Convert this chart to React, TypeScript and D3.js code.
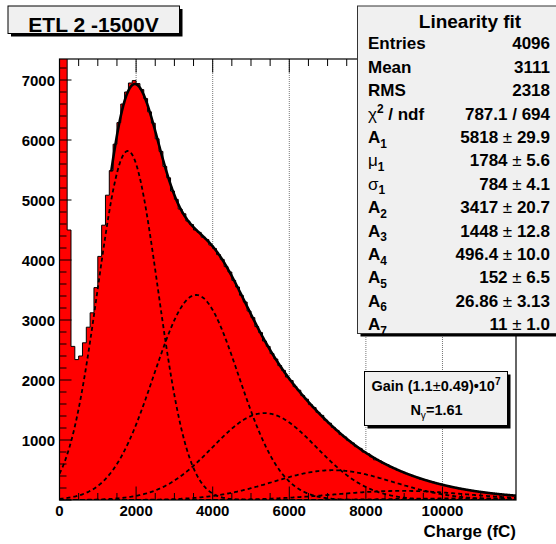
import { useEffect, useRef } from 'react';
import * as d3 from 'd3';

// Histogram contents, 100 fC bins starting at 0 fC
const binWidth = 100;
const counts = [
  9800, 8600, 4500, 2560, 2340, 2400, 2620, 2880, 3120, 3540,
  4060, 4580, 5080, 5490, 5930, 6290, 6600, 6800, 6950, 6990,
  6940, 6840, 6690, 6470, 6280, 6020, 5810, 5560, 5370, 5150,
  5010, 4850, 4770, 4650, 4590, 4500, 4460, 4380, 4340, 4250,
  4190, 4090, 4010, 3890, 3800, 3660, 3550, 3410, 3300, 3150,
  3040, 2890, 2790, 2650, 2560, 2440, 2350, 2240, 2160, 2050,
  1990, 1890, 1830, 1740, 1680, 1590, 1540, 1460, 1410, 1330,
  1280, 1210, 1160, 1090, 1050, 990, 950, 890, 860, 800,
  770, 720, 670, 655, 615, 590, 550, 528, 492, 470,
  440, 424, 394, 376, 345, 334, 310, 296, 274, 262,
  244, 232, 214, 206, 188, 180, 166, 158, 146, 140,
  128, 123, 112, 107, 97, 93, 85, 82, 74, 72,
];

const xMax = 11920;
const yMax = 7350;

// Fit: sum of gaussians, n-th peak at n*mu1 with width sqrt(n)*sigma1
const amplitudes = [5818, 3417, 1448, 496.4, 152, 26.86, 11];
const mu1 = 1784;
const sigma1 = 784;
const fitStart = 1350;

const xTicks = [0, 2000, 4000, 6000, 8000, 10000];
const yTicks = [1000, 2000, 3000, 4000, 5000, 6000, 7000];
const gridX = [2000, 4000, 6000, 8000, 10000];

type Part = { t: string; sub?: boolean; sup?: boolean; normal?: boolean };

const statRows: { label: Part[]; value: Part[] }[] = [
  { label: [{ t: 'Entries' }], value: [{ t: '4096' }] },
  { label: [{ t: 'Mean' }], value: [{ t: '3111' }] },
  { label: [{ t: 'RMS' }], value: [{ t: '2318' }] },
  { label: [{ t: 'χ', normal: true }, { t: '2', sup: true }, { t: ' / ndf' }], value: [{ t: '787.1 / 694' }] },
  { label: [{ t: 'A' }, { t: '1', sub: true }], value: [{ t: '5818 ' }, { t: '±', normal: true }, { t: ' 29.9' }] },
  { label: [{ t: 'μ', normal: true }, { t: '1', sub: true }], value: [{ t: '1784 ' }, { t: '±', normal: true }, { t: ' 5.6' }] },
  { label: [{ t: 'σ', normal: true }, { t: '1', sub: true }], value: [{ t: '784 ' }, { t: '±', normal: true }, { t: ' 4.1' }] },
  { label: [{ t: 'A' }, { t: '2', sub: true }], value: [{ t: '3417 ' }, { t: '±', normal: true }, { t: ' 20.7' }] },
  { label: [{ t: 'A' }, { t: '3', sub: true }], value: [{ t: '1448 ' }, { t: '±', normal: true }, { t: ' 12.8' }] },
  { label: [{ t: 'A' }, { t: '4', sub: true }], value: [{ t: '496.4 ' }, { t: '±', normal: true }, { t: ' 10.0' }] },
  { label: [{ t: 'A' }, { t: '5', sub: true }], value: [{ t: '152 ' }, { t: '±', normal: true }, { t: ' 6.5' }] },
  { label: [{ t: 'A' }, { t: '6', sub: true }], value: [{ t: '26.86 ' }, { t: '±', normal: true }, { t: ' 3.13' }] },
  { label: [{ t: 'A' }, { t: '7', sub: true }], value: [{ t: '11 ' }, { t: '±', normal: true }, { t: ' 1.0' }] },
];

const FONT = '"Liberation Sans", Arial, Helvetica, sans-serif';

function gauss(v: number, n: number) {
  const m = n * mu1;
  const s = Math.sqrt(n) * sigma1;
  return amplitudes[n - 1] * Math.exp(-0.5 * ((v - m) / s) ** 2);
}

function richText(
  g: d3.Selection<SVGGElement, unknown, null, undefined>,
  x: number,
  y: number,
  parts: Part[],
  size: number,
  anchor: string
) {
  const text = g
    .append('text')
    .attr('x', x)
    .attr('y', y)
    .attr('font-family', FONT)
    .attr('font-size', size)
    .attr('font-weight', 'bold')
    .attr('text-anchor', anchor)
    .attr('fill', '#000');
  let shift = 0;
  parts.forEach((p) => {
    const target = p.sub ? size * 0.28 : p.sup ? -size * 0.38 : 0;
    const ts = text.append('tspan').text(p.t);
    if (target !== shift) ts.attr('dy', target - shift);
    shift = target;
    if (p.sub || p.sup) ts.attr('font-size', size * 0.7);
    if (p.normal) ts.attr('font-weight', 'normal');
  });
  return text;
}

export default function App() {
  const svgRef = useRef<SVGSVGElement>(null);

  useEffect(() => {
    if (!svgRef.current) return;
    document.body.style.margin = '0';

    const svg = d3.select(svgRef.current);
    svg.selectAll('*').remove();

    const left = 59.5;
    const right = 516;
    const top = 59;
    const bottom = 500;

    const x = d3.scaleLinear().domain([0, xMax]).range([left, right]);
    const y = d3.scaleLinear().domain([0, yMax]).range([bottom, top]);

    svg.append('rect').attr('width', 556).attr('height', 544).attr('fill', '#fff');

    svg
      .append('clipPath')
      .attr('id', 'frame')
      .append('rect')
      .attr('x', left)
      .attr('y', top)
      .attr('width', right - left)
      .attr('height', bottom - top);

    const g = svg.append('g');

    // vertical grid
    g.selectAll('.grid')
      .data(gridX)
      .enter()
      .append('line')
      .attr('x1', (d) => x(d))
      .attr('x2', (d) => x(d))
      .attr('y1', top)
      .attr('y2', bottom)
      .attr('stroke', '#777')
      .attr('stroke-width', 1)
      .attr('stroke-dasharray', '1,1');

    // histogram
    const bins = counts.map((c, i) => ({ lo: i * binWidth, c }));
    bins.push({ lo: counts.length * binWidth, c: counts[counts.length - 1] });

    const plot = g.append('g').attr('clip-path', 'url(#frame)');

    plot
      .append('path')
      .datum(bins)
      .attr(
        'd',
        d3
          .area<{ lo: number; c: number }>()
          .curve(d3.curveStepAfter)
          .x((d) => x(d.lo))
          .y0(y(0))
          .y1((d) => y(d.c))
      )
      .attr('fill', '#ff0000');

    plot
      .append('path')
      .datum(bins)
      .attr(
        'd',
        d3
          .line<{ lo: number; c: number }>()
          .curve(d3.curveStepAfter)
          .x((d) => x(d.lo))
          .y((d) => y(d.c))
      )
      .attr('fill', 'none')
      .attr('stroke', '#000')
      .attr('stroke-width', 1);

    // fit components (dashed)
    const xs = d3.range(0, xMax + 1, 20);
    amplitudes.forEach((_, i) => {
      plot
        .append('path')
        .datum(xs)
        .attr(
          'd',
          d3
            .line<number>()
            .x((d) => x(d))
            .y((d) => y(gauss(d, i + 1)))
        )
        .attr('fill', 'none')
        .attr('stroke', '#000')
        .attr('stroke-width', 1.8)
        .attr('stroke-dasharray', '4,3');
    });

    // total fit
    const fx = d3.range(fitStart, xMax + 1, 10);
    plot
      .append('path')
      .datum(fx)
      .attr(
        'd',
        d3
          .line<number>()
          .x((d) => x(d))
          .y((d) => y(amplitudes.reduce((s, _, i) => s + gauss(d, i + 1), 0)))
      )
      .attr('fill', 'none')
      .attr('stroke', '#000')
      .attr('stroke-width', 2.6);

    // frame
    g.append('rect')
      .attr('x', left)
      .attr('y', top)
      .attr('width', right - left)
      .attr('height', bottom - top)
      .attr('fill', 'none')
      .attr('stroke', '#000')
      .attr('stroke-width', 1.2);

    // x ticks bottom and top
    const xMinor = d3.range(0, xMax, 500);
    xMinor.forEach((v) => {
      const major = v % 2000 === 0;
      const len = major ? 13.5 : 7;
      g.append('line')
        .attr('x1', x(v)).attr('x2', x(v))
        .attr('y1', bottom).attr('y2', bottom - len)
        .attr('stroke', '#000').attr('stroke-width', 1);
      g.append('line')
        .attr('x1', x(v)).attr('x2', x(v))
        .attr('y1', top).attr('y2', top + len)
        .attr('stroke', '#000').attr('stroke-width', 1);
    });

    // y ticks
    d3.range(0, yMax, 200).forEach((v) => {
      const major = v % 1000 === 0;
      const len = major ? 12 : 7;
      g.append('line')
        .attr('x1', left).attr('x2', left + len)
        .attr('y1', y(v)).attr('y2', y(v))
        .attr('stroke', '#000').attr('stroke-width', 1);
    });

    // tick labels
    g.selectAll('.xl')
      .data(xTicks)
      .enter()
      .append('text')
      .attr('x', (d) => x(d))
      .attr('y', 516)
      .attr('text-anchor', 'middle')
      .attr('font-family', FONT)
      .attr('font-weight', 'bold')
      .attr('font-size', 15)
      .text((d) => d);

    g.selectAll('.yl')
      .data(yTicks)
      .enter()
      .append('text')
      .attr('x', 55)
      .attr('y', (d) => y(d) + 6)
      .attr('text-anchor', 'end')
      .attr('font-family', FONT)
      .attr('font-weight', 'bold')
      .attr('font-size', 15)
      .text((d) => d);

    g.append('text')
      .attr('x', right)
      .attr('y', 537)
      .attr('text-anchor', 'end')
      .attr('font-family', FONT)
      .attr('font-weight', 'bold')
      .attr('font-size', 17)
      .text('Charge (fC)');

    // title box
    g.append('rect').attr('x', 11).attr('y', 9).attr('width', 171.5).attr('height', 27.5).attr('fill', '#000');
    g.append('rect')
      .attr('x', 8).attr('y', 6).attr('width', 171.5).attr('height', 27.5)
      .attr('fill', '#f0f0f0').attr('stroke', '#000').attr('stroke-width', 1);
    g.append('text')
      .attr('x', 93.5)
      .attr('y', 31.5)
      .attr('text-anchor', 'middle')
      .attr('font-family', FONT)
      .attr('font-weight', 'bold')
      .attr('font-size', 21)
      .text('ETL 2 -1500V');

    // stats box
    g.append('rect').attr('x', 360.5).attr('y', 9).attr('width', 220).attr('height', 327.5).attr('fill', '#000');
    g.append('rect')
      .attr('x', 357.5).attr('y', 6).attr('width', 220).attr('height', 327.5)
      .attr('fill', '#f0f0f0').attr('stroke', '#333').attr('stroke-width', 1);
    g.append('text')
      .attr('x', 470)
      .attr('y', 27.5)
      .attr('text-anchor', 'middle')
      .attr('font-family', FONT)
      .attr('font-weight', 'bold')
      .attr('font-size', 19)
      .text('Linearity fit');
    statRows.forEach((r, i) => {
      const by = 49.3 + i * 23.4;
      richText(g, 368, by, r.label, 17, 'start');
      richText(g, 550, by, r.value, 17, 'end');
    });

    // gain box
    g.append('rect').attr('x', 367.5).attr('y', 374.5).attr('width', 143).attr('height', 54).attr('fill', '#000');
    g.append('rect')
      .attr('x', 364.5).attr('y', 371.5).attr('width', 143).attr('height', 54)
      .attr('fill', '#f0f0f0').attr('stroke', '#000').attr('stroke-width', 1);
    richText(
      g,
      436,
      391,
      [{ t: 'Gain (1.1' }, { t: '±', normal: true }, { t: '0.49)•10' }, { t: '7', sup: true }],
      14.5,
      'middle'
    );
    richText(g, 436.5, 415, [{ t: 'N' }, { t: 'γ', sub: true, normal: true }, { t: '=1.61' }], 14.5, 'middle');
  }, []);

  return <svg ref={svgRef} width={556} height={544} style={{ display: 'block' }} />;
}
